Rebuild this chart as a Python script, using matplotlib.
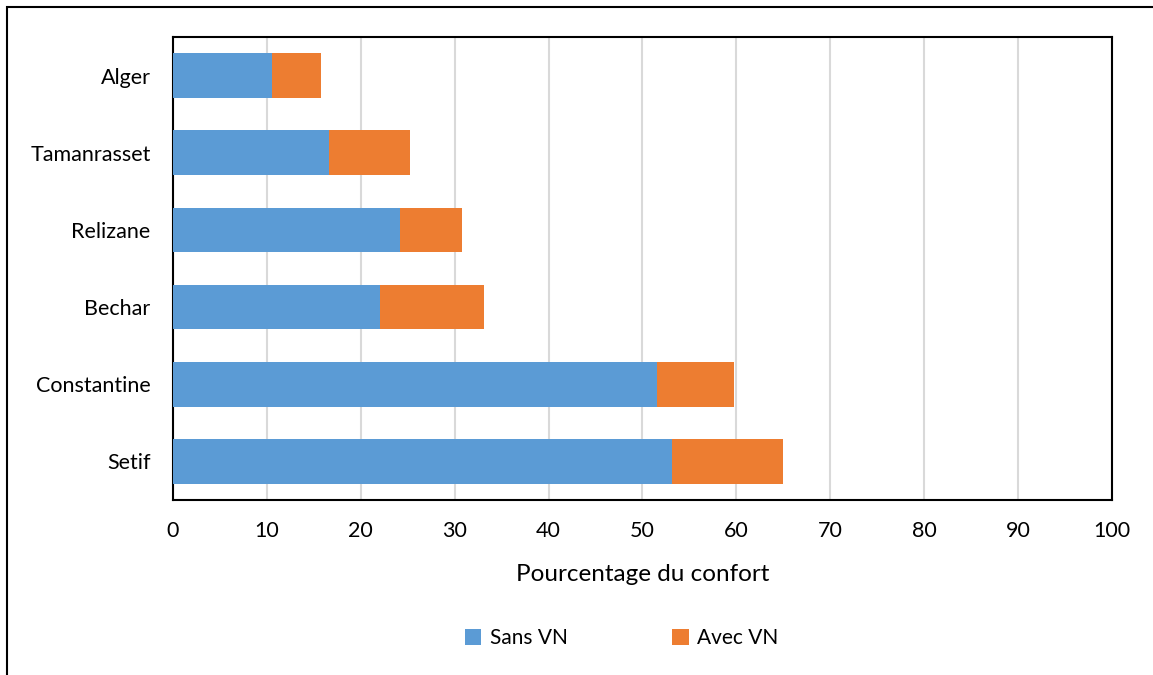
import matplotlib
matplotlib.use("Agg")
import matplotlib.pyplot as plt
from matplotlib.patches import Rectangle

plt.rcParams["font.family"] = ["Lato", "DejaVu Sans"]

# ── Data ─────────────────────────────────────────────────────────────────────
cities   = ["Alger", "Tamanrasset", "Relizane", "Bechar", "Constantine", "Setif"]
sans_vn  = [10.6, 16.6, 24.2, 22.0, 51.5, 53.1]
avec_vn  = [5.2, 8.6, 6.6, 11.1, 8.2, 11.9]
xticks   = [0, 10, 20, 30, 40, 50, 60, 70, 80, 90, 100]

BLUE   = "#5B9BD5"
ORANGE = "#ED7D31"

fig = plt.figure(figsize=(11.53, 6.75), dpi=100)
ax = fig.add_axes([0.150, 0.2593, 0.8144, 0.6859])

ypos = list(range(len(cities)))
ax.barh(ypos, sans_vn, height=0.58, color=BLUE, label="Sans VN", zorder=3)
ax.barh(ypos, avec_vn, left=sans_vn, height=0.58, color=ORANGE,
        label="Avec VN", zorder=3)

ax.set_xlim(0, 100)
ax.set_ylim(len(cities) - 0.5, -0.5)
ax.set_yticks(ypos)
ax.set_yticklabels(cities, fontsize=15.5)
ax.set_xticks(xticks)
ax.set_xticklabels([str(t) for t in xticks], fontsize=15.5)
ax.tick_params(axis="x", length=0, pad=15, colors="black")
ax.tick_params(axis="y", length=0, pad=16, colors="black")
ax.xaxis.grid(True, color="#d9d9d9", linewidth=1.5, zorder=0)
ax.set_axisbelow(True)
for s in ax.spines.values():
    s.set_color("black")
    s.set_linewidth(1.5)

ax.set_xlabel("Pourcentage du confort", fontsize=17.5, labelpad=17)

fig.legend(loc="center", bbox_to_anchor=(0.539, 0.055), ncol=2, frameon=False,
           fontsize=15, handlelength=0.8, handleheight=0.8,
           handletextpad=0.4, columnspacing=5.0)

# outer frame (left/top visible, rest cropped off)
fig.patches.append(Rectangle((7 / 1153, -0.1), 1.2, 0.1 + (675 - 7.5) / 675,
                             transform=fig.transFigure, fill=False,
                             edgecolor="black", linewidth=1.5))

fig.savefig("out.png", dpi=100)
plt.close(fig)
